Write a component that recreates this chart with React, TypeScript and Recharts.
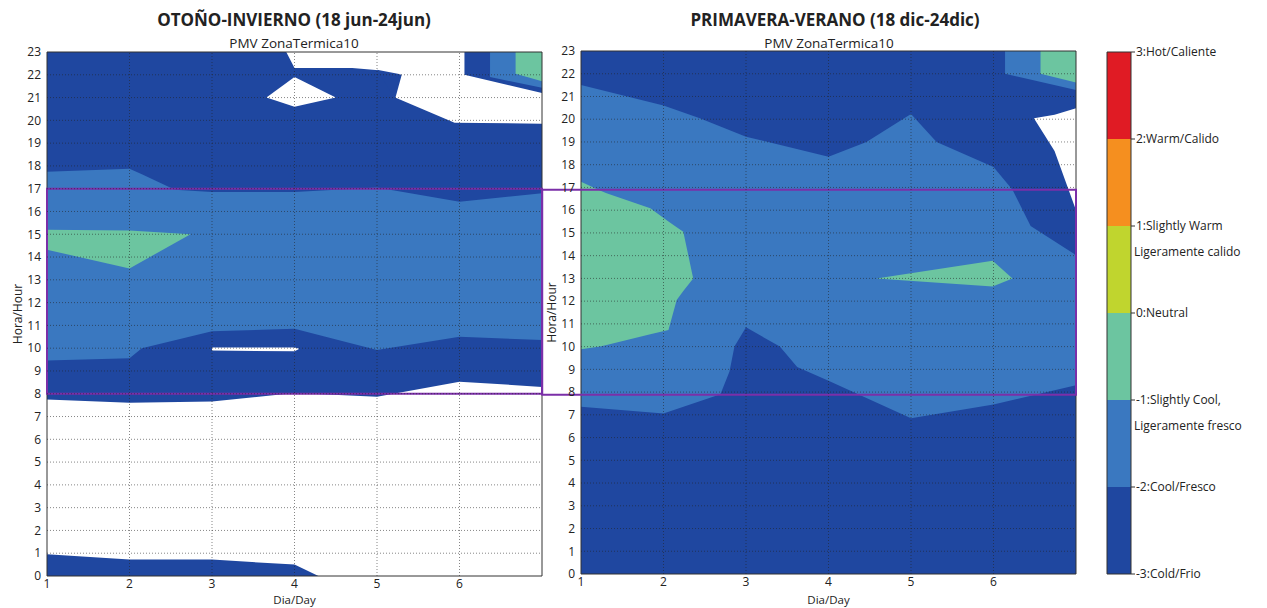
import { ComposedChart, Area, XAxis, YAxis, ReferenceLine, ReferenceArea } from 'recharts';

// PMV palette (matplotlib contourf style)
const COLD = '#1f47a0';
const COOL = '#3a78c0';
const SLCOOL = '#6cc5a0';
const WHITE = '#ffffff';
const PURPLE = '#7b2fa8';

const DAY_TICKS = [1, 2, 3, 4, 5, 6];
const HOUR_TICKS = [0, 1, 2, 3, 4, 5, 6, 7, 8, 9, 10, 11, 12, 13, 14, 15, 16, 17, 18, 19, 20, 21, 22, 23];
const GRID_DAYS = [2, 3, 4, 5, 6];
const GRID_HOURS = [1, 2, 3, 4, 5, 6, 7, 8, 9, 10, 11, 12, 13, 14, 15, 16, 17, 18, 19, 20, 21, 22];

// contour bands: [day, hourLow, hourHigh]
// OTOÑO-INVIERNO
const OI_COLD_BAND = [[1, 7.75, 23], [2, 7.6, 23], [3, 7.66, 23], [4, 8.03, 23], [5, 7.87, 23], [6, 8.53, 23], [7, 8.3, 23]];
const OI_WHITE_TOP = [[3.9, 23, 23], [4, 22.3, 23], [4.7, 22.3, 23], [5.02, 22.2, 23], [5.22, 21, 23], [5.94, 19.9, 23], [7, 19.85, 23]];
const OI_COLD_WEDGE = [[5.0, 22.22, 22.22], [5.22, 20.95, 22.07], [5.3, 22, 22]];
const OI_WHITE_DIAMOND = [[3.66, 21, 21], [4, 20.6, 21.9], [4.5, 21, 21]];
const OI_CORNER_COLD = [[6.06, 22, 23], [7, 21.2, 23]];
const OI_CORNER_COOL = [[6.37, 21.9, 23], [7, 21.43, 23]];
const OI_CORNER_SLCOOL = [[6.68, 22.05, 23], [7, 21.72, 23]];
const OI_COOL_BAND = [[1, 9.46, 17.74], [2, 9.56, 17.88], [2.15, 10, 17.63], [2.55, 10.35, 16.95], [3, 10.74, 16.85], [4, 10.85, 16.85], [5, 9.92, 17.05], [6, 10.5, 16.43], [7, 10.36, 16.8]];
const OI_SLCOOL_ISLAND = [[1, 14.32, 15.2], [2, 13.5, 15.17], [2.74, 15, 15]];
const OI_WHITE_SLIVER = [[3, 9.9, 10.03], [4, 9.86, 10.03], [4.05, 9.95, 9.99]];
const OI_COLD_FLOOR = [[1, 0, 0.96], [2, 0, 0.72], [3, 0, 0.72], [4, 0, 0.5], [4.29, 0, 0]];

// PRIMAVERA-VERANO
const PV_COLD_BASE = [[1, 0, 23], [7, 0, 23]];
const PV_COOL_BODY = [[1, 0, 21.5], [2, 0, 20.6], [2.44, 0, 20.04], [3, 0, 19.23], [4, 0, 18.35], [4.46, 0, 19], [5, 0, 20.23], [5.31, 0, 19], [6, 0, 17.9], [6.23, 0, 16.9], [6.45, 0, 15.3], [6.97, 0, 14.1], [7, 0, 14]];
const PV_COLD_FLOOR = [[1, 0, 7.36], [2, 0, 7.06], [2.69, 0, 7.9], [2.8, 0, 8.9], [2.86, 0, 10], [3, 0, 10.85], [3.41, 0, 10], [3.62, 0, 9.1], [4, 0, 8.5], [5, 0, 6.85], [6, 0, 7.45], [7, 0, 8.3]];
const PV_SLCOOL_LOBE = [[1, 9.88, 17.25], [1.23, 10, 16.86], [1.31, 10.07, 16.74], [1.84, 10.54, 16.08], [2.06, 10.73, 15.5], [2.16, 12.05, 15.25], [2.24, 12.45, 15.05], [2.36, 13, 13]];
const PV_SLCOOL_STREAK = [[4.58, 13, 13], [5.99, 12.64, 13.78], [6.23, 13, 13]];
const PV_WHITE_WEDGE = [[6.49, 20.04, 20.04], [6.74, 18.6, 20.2], [7, 16, 20.48]];
const PV_CORNER_COOL = [[6.14, 22, 23], [7, 21.28, 23]];
const PV_CORNER_SLCOOL = [[6.57, 22, 23], [7, 21.62, 23]];

// colorbar
const PMV_LEVELS = [-3, -2, -1, 0, 1, 2, 3];
const PMV_COLORS = ['#1f47a0', '#3a78c0', '#6cc5a0', '#c0d52e', '#f58f1f', '#e01b24'];
const PMV_LABELS = ['-3:Cold/Frio', '-2:Cool/Fresco', '-1:Slightly Cool,', '0:Neutral', '1:Slightly Warm', '2:Warm/Calido', '3:Hot/Caliente'];
const PMV_SUBLABELS = ['', '', 'Ligeramente fresco', '', 'Ligeramente calido', '', ''];

const OI_LAYERS = [
  { color: COLD, pts: OI_COLD_BAND },
  { color: WHITE, pts: OI_WHITE_TOP },
  { color: COLD, pts: OI_COLD_WEDGE },
  { color: WHITE, pts: OI_WHITE_DIAMOND },
  { color: COLD, pts: OI_CORNER_COLD },
  { color: COOL, pts: OI_CORNER_COOL },
  { color: SLCOOL, pts: OI_CORNER_SLCOOL },
  { color: COOL, pts: OI_COOL_BAND },
  { color: SLCOOL, pts: OI_SLCOOL_ISLAND },
  { color: WHITE, pts: OI_WHITE_SLIVER },
  { color: COLD, pts: OI_COLD_FLOOR },
];

const PV_LAYERS = [
  { color: COLD, pts: PV_COLD_BASE },
  { color: COOL, pts: PV_COOL_BODY },
  { color: COLD, pts: PV_COLD_FLOOR },
  { color: SLCOOL, pts: PV_SLCOOL_LOBE },
  { color: SLCOOL, pts: PV_SLCOOL_STREAK },
  { color: WHITE, pts: PV_WHITE_WEDGE },
  { color: COOL, pts: PV_CORNER_COOL },
  { color: SLCOOL, pts: PV_CORNER_SLCOOL },
];

const toRows = (pts: number[][]) => pts.map(([d, lo, hi]) => ({ d, v: [lo, hi] }));

const FONT = "'Open Sans', sans-serif";
const tickStyle = { fontSize: 12, fill: '#222', fontFamily: FONT };

function Panel({ layers, top, xAxisH, boxX1, boxY1, boxY2 }: any) {
  return (
    <ComposedChart width={560} height={608} margin={{ top, right: 18, bottom: 0, left: 0 }}>
      <XAxis
        type="number"
        dataKey="d"
        domain={[1, 7]}
        ticks={DAY_TICKS}
        allowDataOverflow
        height={xAxisH}
        axisLine={false}
        tickLine={false}
        tickSize={0}
        tickMargin={3}
        tick={tickStyle}
        label={{ value: 'Dia/Day', position: 'insideBottom', offset: 4, style: { fontSize: 11.5, fill: '#222', fontFamily: FONT } }}
      />
      <YAxis
        type="number"
        domain={[0, 23]}
        ticks={HOUR_TICKS}
        interval={0}
        allowDataOverflow
        width={47}
        axisLine={false}
        tickLine={false}
        tickSize={0}
        tickMargin={6}
        tick={tickStyle}
        label={{ value: 'Hora/Hour', angle: -90, position: 'insideLeft', offset: 18, style: { fontSize: 12, fill: '#222', fontFamily: FONT, textAnchor: 'middle' } }}
      />
      {layers.map((l: any, i: number) => (
        <Area
          key={i}
          data={toRows(l.pts)}
          dataKey="v"
          type="linear"
          stroke="none"
          fill={l.color}
          fillOpacity={1}
          dot={false}
          activeDot={false}
          isAnimationActive={false}
        />
      ))}
      {GRID_DAYS.map((d) => (
        <ReferenceLine key={'x' + d} x={d} stroke="#222" strokeOpacity={0.55} strokeDasharray="1 2" />
      ))}
      {GRID_HOURS.map((h) => (
        <ReferenceLine key={'y' + h} y={h} stroke="#222" strokeOpacity={0.55} strokeDasharray="1 2" />
      ))}
      <ReferenceArea x1={1} x2={7} y1={0} y2={23} fill="none" stroke="#333" strokeWidth={1} />
      <ReferenceArea x1={boxX1} x2={7} y1={boxY1} y2={boxY2} fill="none" fillOpacity={0} stroke={PURPLE} strokeWidth={2} ifOverflow="visible" />
    </ComposedChart>
  );
}

function ColorbarTick({ x, y, payload }: any) {
  const i = PMV_LEVELS.indexOf(payload.value);
  return (
    <g>
      <line x1={x - 7} x2={x - 3} y1={y} y2={y} stroke="#333" />
      <text x={x - 2} y={y} dy={4} textAnchor="start" fontSize={12} fill="#222" fontFamily={FONT}>
        {PMV_LABELS[i]}
      </text>
      {PMV_SUBLABELS[i] ? (
        <text x={x - 4} y={y} dy={30} textAnchor="start" fontSize={12} fill="#222" fontFamily={FONT}>
          {PMV_SUBLABELS[i]}
        </text>
      ) : null}
    </g>
  );
}

function Colorbar() {
  return (
    <ComposedChart width={167} height={608} margin={{ top: 52, right: 0, bottom: 34, left: 7 }}>
      <XAxis type="number" dataKey="d" domain={[0, 1]} hide />
      <YAxis
        type="number"
        orientation="right"
        domain={[-3, 3]}
        ticks={PMV_LEVELS}
        interval={0}
        width={136}
        axisLine={false}
        tickLine={false}
        tickSize={0}
        tickMargin={7}
        tick={<ColorbarTick />}
      />
      {PMV_COLORS.map((c, i) => (
        <Area
          key={i}
          data={toRows([[0, PMV_LEVELS[i], PMV_LEVELS[i + 1]], [1, PMV_LEVELS[i], PMV_LEVELS[i + 1]]])}
          dataKey="v"
          type="linear"
          stroke="none"
          fill={c}
          fillOpacity={1}
          dot={false}
          activeDot={false}
          isAnimationActive={false}
        />
      ))}
      <ReferenceArea x1={0} x2={1} y1={-3} y2={3} fill="none" stroke="#333" strokeWidth={1} />
    </ComposedChart>
  );
}

const titleStyle: any = {
  position: 'absolute',
  top: 8,
  fontFamily: FONT,
  fontWeight: 700,
  fontSize: 17,
  color: '#222',
  textAlign: 'center',
  whiteSpace: 'nowrap',
};
const subStyle: any = {
  position: 'absolute',
  top: 34,
  fontFamily: FONT,
  fontSize: 13.5,
  color: '#222',
  textAlign: 'center',
  whiteSpace: 'nowrap',
};

export default function App() {
  return (
    <div style={{ position: 'absolute', left: 0, top: 0, width: 1267, height: 608, background: '#fff', overflow: 'hidden' }}>
      <div style={{ position: 'absolute', left: 0, top: 0 }}>
        <Panel layers={OI_LAYERS} top={52} xAxisH={32} boxX1={1} boxY1={8} boxY2={17} />
      </div>
      <div style={{ position: 'absolute', left: 534, top: 0 }}>
        <Panel layers={PV_LAYERS} top={51} xAxisH={34} boxX1={0.53} boxY1={7.88} boxY2={16.9} />
      </div>
      <div style={{ position: 'absolute', left: 1100, top: 0 }}>
        <Colorbar />
      </div>
      <div style={{ ...titleStyle, left: 94, width: 400 }}>OTOÑO-INVIERNO (18 jun-24jun)</div>
      <div style={{ ...subStyle, left: 194, width: 200 }}>PMV ZonaTermica10</div>
      <div style={{ ...titleStyle, left: 635, width: 400 }}>PRIMAVERA-VERANO (18 dic-24dic)</div>
      <div style={{ ...subStyle, left: 729, width: 200 }}>PMV ZonaTermica10</div>
    </div>
  );
}
